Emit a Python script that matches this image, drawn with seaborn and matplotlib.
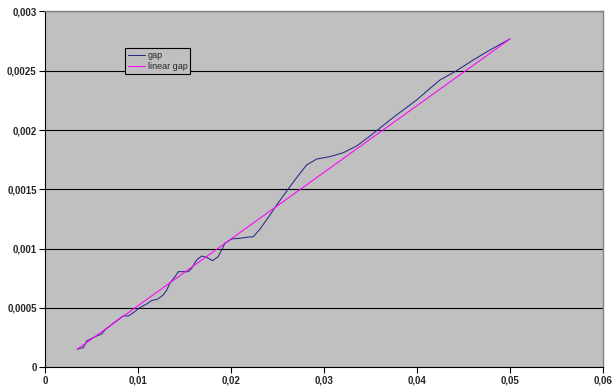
import matplotlib
matplotlib.use("Agg")
import matplotlib.pyplot as plt
import seaborn as sns
import pandas as pd
from matplotlib.ticker import FuncFormatter, MultipleLocator

# values
gap_x = [0.00347, 0.00376, 0.00412, 0.00448, 0.00484, 0.00556, 0.00610, 0.00645,
         0.00734, 0.00806, 0.00842, 0.00896, 0.00949, 0.01022, 0.01094, 0.01147,
         0.01208, 0.01272, 0.01309, 0.01344, 0.01398, 0.01433, 0.01487, 0.01541,
         0.01577, 0.01631, 0.01685, 0.01739, 0.01803, 0.01863, 0.01935, 0.02008,
         0.02097, 0.02169, 0.02240, 0.02312, 0.02419, 0.02491, 0.02634, 0.02720,
         0.02814, 0.02922, 0.03065, 0.03208, 0.03352, 0.03495, 0.03567, 0.03710,
         0.03853, 0.03997, 0.04129, 0.04247, 0.04427, 0.04605, 0.04785, 0.05000]
gap_y = [0.000152, 0.000160, 0.000165, 0.000222, 0.000236, 0.000264, 0.000281, 0.000315,
         0.000371, 0.000413, 0.000433, 0.000433, 0.000460, 0.000504, 0.000534, 0.000563,
         0.000573, 0.000610, 0.000652, 0.000711, 0.000764, 0.000806, 0.000806, 0.000806,
         0.000835, 0.000905, 0.000938, 0.000926, 0.000899, 0.000933, 0.001046, 0.001082,
         0.001088, 0.001096, 0.001101, 0.001166, 0.001284, 0.001368, 0.001523, 0.001613,
         0.001706, 0.001756, 0.001776, 0.001809, 0.001866, 0.001950, 0.001995, 0.002085,
         0.002170, 0.002254, 0.002344, 0.002422, 0.002501, 0.002591, 0.002675, 0.002768]

lin_x = [0.00347, 0.05000]
lin_y = [0.000152, 0.002768]

gap_df = pd.DataFrame({"x": gap_x, "y": gap_y})
lin_df = pd.DataFrame({"x": lin_x, "y": lin_y})

sns.set_style("white", {"axes.facecolor": "#c0c0c0"})
plt.rcParams['font.family'] = ['Liberation Sans', 'DejaVu Sans']

fig = plt.figure(figsize=(6.13, 3.87), dpi=100)
ax = fig.add_axes([0.0734, 0.0509, 0.9103, 0.9196])

sns.lineplot(data=gap_df, x="x", y="y", sort=False, color="#28288a", lw=0.75,
             label="gap", ax=ax, zorder=3)
sns.lineplot(data=lin_df, x="x", y="y", sort=False, color="#ff00ff", lw=0.75,
             label="linear gap", ax=ax, zorder=4)

ax.set_xlim(0, 0.06)
ax.set_ylim(0, 0.003)
ax.xaxis.set_major_locator(MultipleLocator(0.01))
ax.yaxis.set_major_locator(MultipleLocator(0.0005))

def comma(v, pos):
    s = ("%.4f" % v).rstrip("0").rstrip(".")
    return s.replace(".", ",")

ax.xaxis.set_major_formatter(FuncFormatter(comma))
ax.yaxis.set_major_formatter(FuncFormatter(comma))
ax.set_xlabel("")
ax.set_ylabel("")

ax.grid(axis="y", color="black", lw=0.8)
ax.set_axisbelow(True)
ax.tick_params(axis="both", direction="out", length=4, width=0.8, color="black",
               labelsize=7, pad=2, left=True, bottom=True)
for lab in ax.get_xticklabels() + ax.get_yticklabels():
    lab.set_fontweight("bold")

for side in ["left", "bottom"]:
    ax.spines[side].set_color("black")
    ax.spines[side].set_linewidth(0.8)
for side in ["top", "right"]:
    ax.spines[side].set_color("#808080")
    ax.spines[side].set_linewidth(1)

leg = ax.legend(loc="upper left", bbox_to_anchor=(0.1434, 0.897), fontsize=6.5,
                frameon=True, fancybox=False, framealpha=1, edgecolor="black",
                handlelength=1.9, handletextpad=0.3, borderpad=0.3,
                labelspacing=0.25, borderaxespad=0)
leg.get_frame().set_linewidth(0.8)

fig.savefig("out.png", dpi=100)
